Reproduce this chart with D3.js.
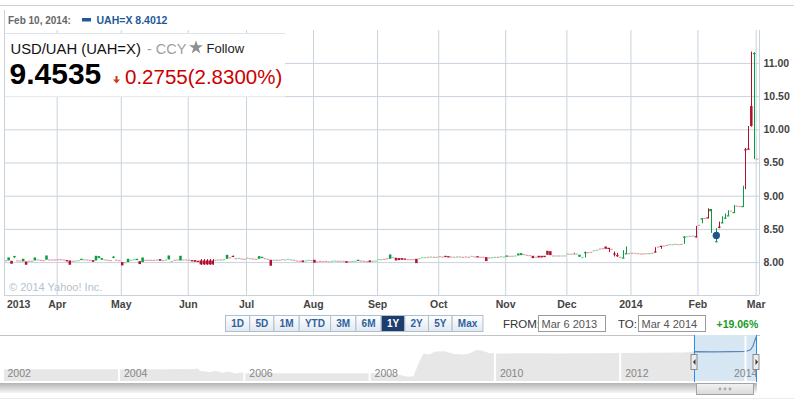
<!DOCTYPE html>
<html>
<head>
<meta charset="utf-8">
<script src="https://cdn.jsdelivr.net/npm/d3@7"></script>
<style>
  body { margin: 0; background: #fff; }
  svg text { font-family: "Liberation Sans", Arial, sans-serif; }
  .grid line { stroke: #c9d3dc; }
  .axis text { font-size: 10.5px; font-weight: bold; fill: #444; }
</style>
</head>
<body>
<svg id="chart" width="794" height="399"></svg>
<script>
// daily candles, one array per month: [open, close] or [open, close, high, low]
const mar13 = [[8.030,8.026],[8.025,8.070],[8.020,7.975],[8.090,8.092,8.095,8.060],[8.027,8.025],[8.026,8.024],
  [8.010,8.050],[8.010,7.960],[8.022,8.020],[8.021,8.019],[8.025,8.070],[8.040,8.042],[8.036,8.034],[8.031,8.029],
  [8.035,8.100],[8.041,8.039],[8.040,8.038],[8.042,8.040]];
const apr13 = [[8.046,8.044],[8.045,8.035],[8.040,8.030],[8.030,8.010],[8.025,7.960],[8.021,8.019],[8.024,8.026],
  [8.029,8.031],[8.030,8.050],[8.039,8.041],[8.041,8.039],[8.035,8.020],[8.030,8.005],[8.025,8.095],[8.060,8.090],
  [8.035,8.060],[8.039,8.041],[8.036,8.034],[8.031,8.029],[8.080,8.082,8.090,8.060],[8.036,8.034],[8.031,8.029]];
const may13 = [[8.000,7.950],[8.001,7.999],[8.000,8.050],[8.034,8.036],[8.035,8.045],[8.030,8.050],[8.015,7.970],
  [8.000,8.070],[8.035,8.025],[8.035,8.025],[8.036,8.034],[8.036,8.034],[8.039,8.041],[8.045,8.020],[8.031,8.029],
  [8.030,8.040],[8.040,8.100],[8.000,8.015],[8.036,8.034],[8.040,8.030],[8.025,8.095],[8.039,8.041],[8.040,8.025]];
const jun13 = [[8.036,8.034],[8.030,8.010],[8.030,8.005],[8.020,8.000],[8.025,7.965,8.045,7.960],[8.025,7.965,8.045,7.960],
  [8.025,7.965,8.045,7.960],[8.025,7.965,8.045,7.960],[8.025,7.965,8.045,7.960],[8.036,8.034],[8.039,8.041],[8.041,8.039],
  [8.044,8.046],[8.050,8.110],[8.071,8.069],[8.095,8.090,8.097,8.075],[8.061,8.059],[8.050,8.065],[8.056,8.054],[8.051,8.049]];
const jul13 = [[8.060,8.070],[8.061,8.059],[8.056,8.054],[8.051,8.049],[8.050,8.090],[8.060,8.080],[8.061,8.059],
  [8.051,8.049],[8.035,7.945],[8.034,8.036],[8.036,8.034],[8.034,8.036],[8.045,8.035],[8.039,8.041],[8.040,8.050],
  [8.039,8.041],[8.036,8.034],[8.025,8.010],[8.021,8.019],[8.025,8.000],[8.024,8.026],[8.025,8.035],[8.031,8.029]];
const aug13 = [[8.035,7.990],[8.011,8.009],[8.020,8.005],[8.016,8.014],[8.020,8.005],[8.011,8.009],[8.019,8.021],
  [8.015,8.025],[8.021,8.019],[8.019,8.021],[8.021,8.019],[8.015,7.990],[8.011,8.009],[8.014,8.016],[8.019,8.021],
  [8.015,8.035],[8.025,8.010],[8.021,8.019],[8.016,8.014],[8.025,8.000],[8.019,8.021],[8.024,8.026]];
const sep13 = [[8.044,8.046],[8.044,8.046],[8.051,8.049],[8.060,8.050],[8.050,8.115],[8.074,8.076],[8.065,8.025],
  [8.060,8.030],[8.060,8.035],[8.055,8.035],[8.046,8.044],[8.046,8.044],[8.046,8.044],[8.050,7.985],[8.059,8.061],
  [8.065,8.075],[8.074,8.076],[8.081,8.079],[8.075,8.085],[8.081,8.079],[8.079,8.081]];
const oct13 = [[8.091,8.089],[8.086,8.084],[8.095,8.075],[8.090,8.070],[8.086,8.084],[8.079,8.081],[8.086,8.084],
  [8.084,8.086],[8.081,8.079],[8.086,8.084],[8.081,8.079],[8.080,8.095],[8.086,8.084],[8.090,8.070],[8.081,8.079],
  [8.081,8.079],[8.075,8.015],[8.071,8.069],[8.074,8.076],[8.079,8.081],[8.081,8.079],[8.080,8.090],[8.084,8.086]];
const nov13 = [[8.080,8.100],[8.096,8.094],[8.094,8.096],[8.099,8.101],[8.100,8.130],[8.105,8.135],[8.121,8.119],
  [8.111,8.109],[8.106,8.104],[8.095,8.060],[8.079,8.081],[8.095,8.070],[8.095,8.070],[8.095,8.075],[8.170,8.110],
  [8.165,8.105],[8.101,8.099],[8.099,8.101],[8.101,8.099],[8.099,8.101],[8.099,8.101]];
const dec13 = [[8.131,8.129],[8.124,8.126],[8.130,8.125,8.140,8.120],[8.125,8.130],[8.080,8.110],[8.075,8.080],
  [8.145,8.150,8.160,8.070],[8.151,8.149],[8.156,8.154],[8.179,8.181],[8.184,8.186],[8.206,8.204],[8.211,8.209],
  [8.235,8.200],[8.215,8.205,8.215,8.150],[8.201,8.199],[8.130,8.120,8.160,8.085],[8.105,8.100,8.140,8.080],
  [8.081,8.079],[8.065,8.070,8.180,8.065],[8.130,8.135,8.235,8.130],[8.136,8.134]];
const jan14 = [[8.141,8.139],[8.139,8.141],[8.136,8.134],[8.131,8.129],[8.131,8.129],[8.134,8.136],[8.136,8.134],
  [8.139,8.141],[8.160,8.155,8.225,8.150],[8.235,8.225],[8.245,8.235,8.245,8.200],[8.251,8.249],[8.261,8.259],
  [8.269,8.271],[8.269,8.271],[8.276,8.274],[8.269,8.271],[8.276,8.274],[8.380,8.385,8.390,8.275],[8.389,8.391],
  [8.396,8.394],[8.399,8.401],[8.390,8.375,8.545,8.370]];
const feb14 = [[8.562,8.558],[8.655,8.660,8.665,8.585],[8.666,8.664],[8.675,8.665,8.810,8.660],[8.765,8.800,8.800,8.440],
  [8.400,8.4012,8.410,8.395],[8.310,8.315,8.510,8.305],[8.535,8.525,8.610,8.510],[8.595,8.600,8.690,8.590],
  [8.665,8.670,8.730,8.660],[8.700,8.705,8.780,8.700],[8.776,8.774],[8.750,8.755,8.860,8.750],[8.851,8.849],
  [8.846,8.844],[8.840,8.845,9.150,8.835],[9.700,9.690,9.720,9.100],[9.710,9.700,10.050,9.695],
  [10.350,10.050,11.170,10.040],[11.140,11.150,11.160,9.550]];
const mar14 = [[9.560,9.550]];

const tickLabels = ["2013", "Apr", "May", "Jun", "Jul", "Aug", "Sep", "Oct", "Nov", "Dec", "2014", "Feb", "Mar"];
const yTicks = [8.00, 8.50, 9.00, 9.50, 10.00, 10.50, 11.00];

const hoverLabel = "Feb 10, 2014:";
const hoverSeries = "UAH=X 8.4012";
const hoverDay = "2014-02-11";
const hoverValue = 8.4012;

const quoteName = "USD/UAH (UAH=X)";
const quotePrice = "9.4535";
const quoteChange = "0.2755";
const quotePct = "(2.8300%)";

const rangeButtons = ["1D", "5D", "1M", "YTD", "3M", "6M", "1Y", "2Y", "5Y", "Max"];
const selectedRange = "1Y";
const fromDate = "Mar 6 2013";
const toDate = "Mar 4 2014";
const rangeChange = "+19.06%";

// navigator: long history, decimal years
const navYears = [2001.6, 2002.5, 2003.5, 2004.0, 2004.3, 2004.5, 2004.7, 2004.9, 2005.1, 2005.25, 2005.3, 2005.45,
  2005.55, 2005.65, 2005.75, 2005.85, 2005.95, 2006.0, 2007.0, 2008.0, 2008.35, 2008.5, 2008.62, 2008.7, 2008.78,
  2008.86, 2008.95, 2009.05, 2009.2, 2009.35, 2009.5, 2009.6, 2009.7, 2009.8, 2009.9, 2010.0, 2010.5, 2011.0,
  2011.5, 2012.0, 2012.5, 2013.0, 2013.2, 2013.5, 2013.8, 2014.0, 2014.08, 2014.12, 2014.15, 2014.17];
const navValues = [5.71, 5.71, 5.71, 5.70, 5.68, 5.72, 5.66, 5.74, 5.70, 5.78, 5.45, 5.30,
  5.50, 5.20, 5.38, 5.10, 5.25, 5.12, 5.13, 5.12, 5.05, 4.85, 4.63, 4.70, 6.50,
  8.04, 7.85, 8.30, 8.35, 7.95, 7.85, 8.05, 8.52, 8.45, 8.10, 8.00, 8.04, 8.02,
  8.05, 8.10, 8.13, 8.15, 8.27, 8.25, 8.28, 8.30, 8.55, 9.10, 9.90, 10.46];
const navYearLabels = [2002, 2004, 2006, 2008, 2010, 2012, 2014];
const navFrom = 2013 + 64 / 365;
const navTo = 2014 + 62 / 365;

const plot = { left: 4, right: 759, top: 30, bottom: 295 };
const green = "#0b9c3b", red = "#b30f2e";

const svg = d3.select("#chart");

let days = d3.timeDay.range(new Date(2013, 2, 6), new Date(2014, 2, 5))
  .filter(d => d.getDay() !== 0 && d.getDay() !== 6);

let rows = [].concat(mar13, apr13, may13, jun13, jul13, aug13, sep13, oct13, nov13, dec13, jan14, feb14, mar14);
let candles = rows.map((r, i) => ({
  i: i,
  date: days[i],
  open: r[0],
  close: r[1],
  high: r.length > 2 ? r[2] : Math.max(r[0], r[1]),
  low: r.length > 2 ? r[3] : Math.min(r[0], r[1])
}));

var x = d3.scaleLinear().domain([0, days.length]).range([4.27, 761.5]);
var y = d3.scaleLinear().domain([7.5, 11.5]).range([295.3, 29.7]);

let monthStarts = days.map((d, i) => i)
  .filter(i => i > 0 && days[i].getMonth() !== days[i - 1].getMonth());

// top header rule and left frame
svg.append("line").attr("x1", 0).attr("x2", 794).attr("y1", 5.5).attr("y2", 5.5).attr("stroke", "#d0d0d0");
svg.append("line").attr("x1", 4.5).attr("x2", 4.5).attr("y1", 10).attr("y2", plot.bottom).attr("stroke", "#c9d3dc");

// y axis with grid
svg.append("g")
  .attr("class", "axis grid")
  .attr("transform", "translate(" + plot.right + ",0)")
  .call(d3.axisRight(y).tickValues(yTicks).tickFormat(d3.format(".2f"))
    .tickSize(-(plot.right - plot.left)).tickPadding(4.5))
  .call(g => g.select(".domain").remove());

// x axis with grid
svg.append("g")
  .attr("class", "axis grid")
  .attr("transform", "translate(0," + plot.bottom + ")")
  .call(d3.axisBottom(x).tickValues(monthStarts)
    .tickFormat(d => tickLabels[monthStarts.indexOf(d) + 1])
    .tickSize(-(plot.bottom - plot.top)).tickPadding(5.5))
  .call(g => g.select(".domain").remove());

svg.append("text").attr("class", "axis")
  .attr("x", 7).attr("y", 308)
  .style("font-size", "10.5px").style("font-weight", "bold").style("fill", "#444")
  .text(tickLabels[0]);

// frame lines
svg.append("line").attr("x1", plot.left).attr("x2", plot.right).attr("y1", plot.bottom + 0.5).attr("y2", plot.bottom + 0.5).attr("stroke", "#c9d3dc");
svg.append("line").attr("x1", plot.right + 0.5).attr("x2", plot.right + 0.5).attr("y1", plot.top).attr("y2", plot.bottom).attr("stroke", "#c9d3dc");

svg.append("text")
  .attr("x", 9).attr("y", 291)
  .style("font-size", "11px").style("fill", "#b6c2cc")
  .text("\u00a9 2014 Yahoo! Inc.");

// candles
svg.append("clipPath").attr("id", "plotClip")
  .append("rect").attr("x", plot.left + 1).attr("y", plot.top)
  .attr("width", plot.right - plot.left - 1).attr("height", plot.bottom - plot.top);

let cg = svg.append("g").attr("clip-path", "url(#plotClip)");

let colorOf = function (d) {
  let up = d.close >= d.open;
  let h = Math.abs(y(d.open) - y(d.close));
  let wick = y(d.low) - y(d.high) - h > 1;
  if (h < 1.2 && !wick) return up ? "#8fd3a5" : "#e39bab";
  return up ? green : red;
};

cg.selectAll(".wick")
  .data(candles.filter(d => d.high > Math.max(d.open, d.close) || d.low < Math.min(d.open, d.close)))
  .enter()
  .append("line")
  .attr("class", "wick")
  .attr("x1", d => Math.round(x(d.i + 0.5)) + 0.5)
  .attr("x2", d => Math.round(x(d.i + 0.5)) + 0.5)
  .attr("y1", d => y(d.high))
  .attr("y2", d => y(d.low))
  .attr("stroke", d => d.close >= d.open ? green : red)
  .attr("stroke-width", 1);

cg.selectAll(".body")
  .data(candles)
  .enter()
  .append("rect")
  .attr("class", "body")
  .attr("x", d => x(d.i + 0.5) - 1.25)
  .attr("width", 2.5)
  .attr("y", d => y(Math.max(d.open, d.close)))
  .attr("height", d => Math.max(1.2, Math.abs(y(d.open) - y(d.close))))
  .attr("fill", colorOf);

// hover marker
let hi = days.findIndex(d => d3.timeFormat("%Y-%m-%d")(d) === hoverDay);
svg.append("circle")
  .attr("cx", x(hi + 0.5)).attr("cy", y(hoverValue)).attr("r", 3.6)
  .attr("fill", "#1f5591");

// header readout
svg.append("text").attr("x", 8).attr("y", 23.5)
  .style("font-size", "10px").style("font-weight", "bold").style("fill", "#666")
  .text(hoverLabel);
svg.append("rect").attr("x", 82).attr("y", 18).attr("width", 9).attr("height", 3.5).attr("fill", "#1f5a98");
svg.append("text").attr("x", 96.5).attr("y", 23.5)
  .style("font-size", "10.5px").style("font-weight", "bold").style("fill", "#1f5a98")
  .text(hoverSeries);

// quote box
svg.append("rect").attr("x", 5).attr("y", 33.5).attr("width", 280).attr("height", 63)
  .attr("fill", "#fff");
svg.append("line").attr("x1", 5).attr("x2", 285).attr("y1", 33.5).attr("y2", 33.5).attr("stroke", "#dde3e8");

svg.append("text").attr("x", 10.5).attr("y", 53.5)
  .style("font-size", "14.8px").style("fill", "#111")
  .text(quoteName);
svg.append("text").attr("x", 147).attr("y", 53.5)
  .style("font-size", "14.5px").style("fill", "#a0a0a0")
  .text("- CCY");

let star = d3.symbol().type(d3.symbolStar).size(60);
svg.append("path").attr("d", star()).attr("transform", "translate(196,47.5)").attr("fill", "#8f8f8f");
svg.append("text").attr("x", 206.5).attr("y", 52.5)
  .style("font-size", "13px").style("fill", "#222")
  .text("Follow");

svg.append("text").attr("x", 9.5).attr("y", 83.5)
  .style("font-size", "30px").style("font-weight", "bold").style("fill", "#000")
  .text(quotePrice);
svg.append("path")
  .attr("d", "M115.5,76 L117.5,76 L117.5,79.5 L120,79.5 L116.5,83.5 L113,79.5 L115.5,79.5 Z")
  .attr("fill", "#c8401a");
svg.append("text").attr("x", 125).attr("y", 83.5)
  .style("font-size", "20.5px").style("fill", "#cc0000")
  .text(quoteChange + quotePct);

// range buttons
let defs = svg.append("defs");
let bgrad = defs.append("linearGradient").attr("id", "btnGrad").attr("x1", 0).attr("x2", 0).attr("y1", 0).attr("y2", 1);
bgrad.append("stop").attr("offset", "0%").attr("stop-color", "#ffffff");
bgrad.append("stop").attr("offset", "100%").attr("stop-color", "#e1e8ef");

let bx = 225.5;
rangeButtons.forEach(label => {
  let g = svg.append("g");
  let t = g.append("text")
    .attr("y", 327)
    .style("font-size", "10px").style("font-weight", "bold")
    .style("fill", label === selectedRange ? "#fff" : "#2d62a0")
    .attr("text-anchor", "middle")
    .text(label);
  let w = t.node().getComputedTextLength() + 11.4;
  g.insert("rect", "text")
    .attr("x", bx).attr("y", 315.5).attr("width", w).attr("height", 16)
    .attr("fill", label === selectedRange ? "#1d3e6c" : "url(#btnGrad)")
    .attr("stroke", "#aebfcf");
  t.attr("x", bx + w / 2);
  bx += w;
});

svg.append("text").attr("x", 503).attr("y", 327.5)
  .style("font-size", "11.5px").style("fill", "#333").text("FROM:");
svg.append("rect").attr("x", 538.5).attr("y", 315.5).attr("width", 67).attr("height", 16)
  .attr("fill", "#fff").attr("stroke", "#9a9a9a");
svg.append("text").attr("x", 541.5).attr("y", 327.5)
  .style("font-size", "11px").style("fill", "#555").text(fromDate);
svg.append("text").attr("x", 618).attr("y", 327.5)
  .style("font-size", "11.5px").style("fill", "#333").text("TO:");
svg.append("rect").attr("x", 638.5).attr("y", 315.5).attr("width", 67).attr("height", 16)
  .attr("fill", "#fff").attr("stroke", "#9a9a9a");
svg.append("text").attr("x", 641.5).attr("y", 327.5)
  .style("font-size", "11px").style("fill", "#555").text(toDate);
svg.append("text").attr("x", 716.5).attr("y", 327.5)
  .style("font-size", "10.5px").style("font-weight", "bold").style("fill", "#1a9a28").text(rangeChange);

// navigator
var navX = d3.scaleLinear().domain([2004, 2014]).range([119, 745.5]);
var navY = d3.scaleLinear().domain([4, 11]).range([381, 333]);
let navData = navYears.map((yr, i) => ({ year: yr, value: navValues[i] }));

svg.append("clipPath").attr("id", "navClip")
  .append("rect").attr("x", 4).attr("y", 335).attr("width", 753).attr("height", 47);
svg.append("clipPath").attr("id", "selClip")
  .append("rect").attr("x", navX(navFrom)).attr("y", 335).attr("width", navX(navTo) - navX(navFrom)).attr("height", 47);

svg.append("line").attr("x1", 0).attr("x2", 760).attr("y1", 335.5).attr("y2", 335.5).attr("stroke", "#c4c4c4");
svg.append("line").attr("x1", 0).attr("x2", 794).attr("y1", 398.5).attr("y2", 398.5).attr("stroke", "#ececec");

let ng = svg.append("g").attr("clip-path", "url(#navClip)");
ng.append("path")
  .datum(navData)
  .attr("fill", "#e7e7e7")
  .attr("d", d3.area().x(d => navX(d.year)).y0(381).y1(d => navY(d.value)));

ng.append("rect")
  .attr("x", navX(navFrom)).attr("y", 335).attr("width", navX(navTo) - navX(navFrom)).attr("height", 46)
  .attr("fill", "#d6e6f2");
ng.append("path")
  .datum(navData)
  .attr("clip-path", "url(#selClip)")
  .attr("fill", "none").attr("stroke", "#5b87b6").attr("stroke-width", 1.2)
  .attr("d", d3.line().x(d => navX(d.year)).y(d => navY(d.value)));

ng.selectAll(".sep")
  .data(navYearLabels)
  .enter()
  .append("line")
  .attr("x1", d => navX(d)).attr("x2", d => navX(d))
  .attr("y1", 336).attr("y2", 381)
  .attr("stroke", "#fff").attr("stroke-width", 2);

ng.selectAll(".yl")
  .data(navYearLabels)
  .enter()
  .append("text")
  .attr("x", d => Math.min(Math.max(navX(d) + 5, 7.5), 734))
  .attr("y", 377)
  .style("font-size", "10.5px").style("fill", "#858585")
  .text(d => d);

// selection edges and handles
[navFrom, navTo].forEach((v, k) => {
  let px = Math.round(navX(v)) + 0.5;
  svg.append("line").attr("x1", px).attr("x2", px).attr("y1", 335).attr("y2", 382)
    .attr("stroke", "#2e8ee2");
  svg.append("rect").attr("x", px - 3.5).attr("y", 354.5).attr("width", 6).attr("height", 15)
    .attr("fill", "#ececec").attr("stroke", "#8c8c8c");
  let a = k === 0 ? "M" + (px + 1) + ",359 L" + (px - 1.5) + ",362 L" + (px + 1) + ",365 Z"
                  : "M" + (px - 1) + ",359 L" + (px + 1.5) + ",362 L" + (px - 1) + ",365 Z";
  svg.append("path").attr("d", a).attr("fill", "#333");
});

// scrollbar
let sgrad = defs.append("linearGradient").attr("id", "scrollGrad").attr("x1", 0).attr("x2", 0).attr("y1", 0).attr("y2", 1);
sgrad.append("stop").attr("offset", "0%").attr("stop-color", "#b4b4b4");
sgrad.append("stop").attr("offset", "100%").attr("stop-color", "#f6f6f6");
svg.append("rect").attr("x", 0).attr("y", 383).attr("width", 757).attr("height", 10).attr("fill", "url(#scrollGrad)");

let tgrad = defs.append("linearGradient").attr("id", "thumbGrad").attr("x1", 0).attr("x2", 0).attr("y1", 0).attr("y2", 1);
tgrad.append("stop").attr("offset", "0%").attr("stop-color", "#f2f2f2");
tgrad.append("stop").attr("offset", "100%").attr("stop-color", "#dadada");
svg.append("rect").attr("x", 696.5).attr("y", 383.5).attr("width", 57).attr("height", 11)
  .attr("fill", "url(#thumbGrad)").attr("stroke", "#a3a3a3");
[-5, 0, 5].forEach(dx => {
  svg.append("circle").attr("cx", 725 + dx).attr("cy", 389).attr("r", 1.4).attr("fill", "#a8a8a8");
});
</script>
</body>
</html>
